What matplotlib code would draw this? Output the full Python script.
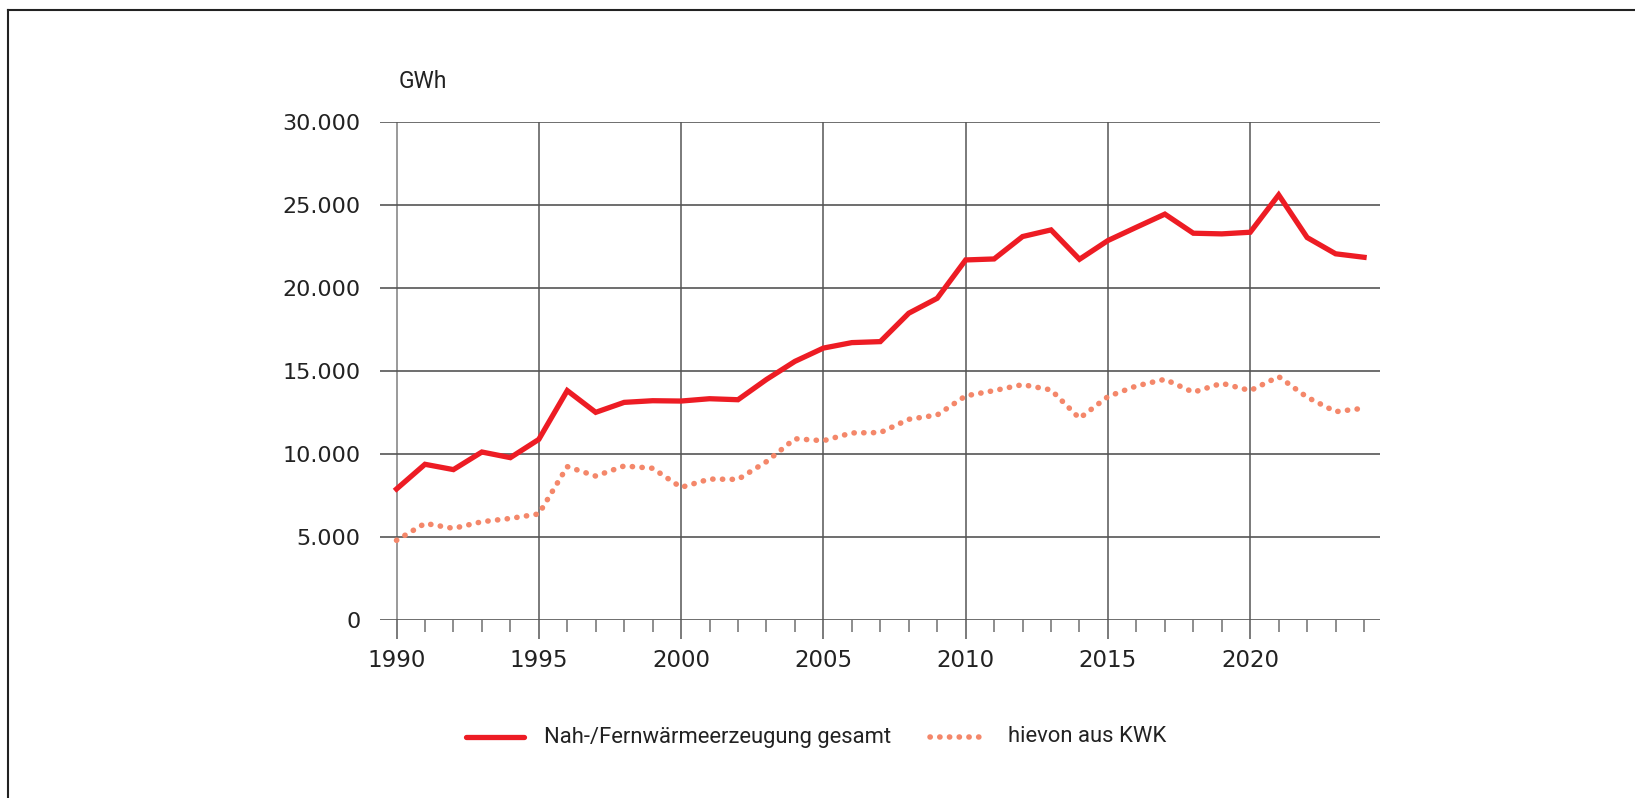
import matplotlib
matplotlib.use("Agg")
import matplotlib.pyplot as plt
from matplotlib.lines import Line2D
from matplotlib.ticker import FuncFormatter, MultipleLocator

years = list(range(1990, 2025))
gesamt = [7890, 9380, 9060, 10120, 9780, 10880, 13820, 12510, 13110, 13210,
          13190, 13330, 13270, 14490, 15580, 16380, 16710, 16770, 18480, 19380,
          21690, 21750, 23100, 23500, 21730, 22860, 23660, 24450, 23300, 23260,
          23360, 25610, 23040, 22060, 21850]
kwk = [4800, 5820, 5520, 5920, 6120, 6390, 9240, 8670, 9280, 9140,
       7990, 8490, 8470, 9540, 10920, 10800, 11270, 11290, 12090, 12350,
       13500, 13820, 14180, 13860, 12150, 13460, 14100, 14500, 13720, 14260,
       13820, 14660, 13420, 12550, 12760]
yticks = [0, 5000, 10000, 15000, 20000, 25000, 30000]
xticks = [1990, 1995, 2000, 2005, 2010, 2015, 2020]
labels = ["Nah-/Fernwärmeerzeugung gesamt", "hievon aus KWK"]
unit = "GWh"

RED = "#ED1C24"
SALMON = "#F4876A"
DOTS = (0, (0.05, 1.7))
W, H = 1635, 798
fig = plt.figure(figsize=(W / 100, H / 100), dpi=100)
ax = fig.add_axes([380 / W, 1 - 620 / H, 1000 / W, (620 - 122) / H])

num_font = ["DejaVu Sans"]
txt_font = ["Roboto", "DejaVu Sans"]

ax.plot(years, gesamt, color=RED, lw=3.8, solid_joinstyle="miter", zorder=4)
ax.plot(years, kwk, color=SALMON, lw=4.0, linestyle=DOTS,
        dash_capstyle="round", zorder=3)

ax.set_xlim(1989.42, 2024.56)
ax.set_ylim(0, 30000)
ax.set_yticks(yticks)
ax.yaxis.set_major_formatter(FuncFormatter(lambda v, p: f"{int(v):,}".replace(",", ".")))
ax.set_xticks(xticks)
ax.xaxis.set_minor_locator(MultipleLocator(1))

for s in ax.spines.values():
    s.set_visible(False)

ax.grid(axis="y", color="#555555", lw=1.2, zorder=1)
ax.grid(axis="x", which="major", color="#7a7a7a", lw=1.4, zorder=1)
ax.tick_params(axis="y", length=0, pad=14, labelsize=16, labelcolor="#222222")
ax.tick_params(axis="x", which="major", length=13.7, width=1.4, color="#7a7a7a",
               pad=7, labelsize=16.5, labelcolor="#222222")
ax.tick_params(axis="x", which="minor", length=8.6, width=1.2, color="#7a7a7a")
for lab in ax.get_xticklabels() + ax.get_yticklabels():
    lab.set_family(num_font)
ax.get_xgridlines()[0].set_color("#9a9a9a")

fig.text(399 / W, 1 - 82 / H, unit, ha="left", va="center", fontsize=16.5,
         family=txt_font, color="#222222")

# legend
ly = 1 - 737 / H
fig.add_artist(Line2D([466 / W, 524 / W], [ly, ly], color=RED, lw=3.8,
                      solid_capstyle="round"))
fig.text(544 / W, ly, labels[0], ha="left", va="center", fontsize=15.8,
         family=txt_font, color="#222222")
fig.add_artist(Line2D([930 / W, 988 / W], [ly, ly], color=SALMON, lw=4.0,
                      linestyle=DOTS, dash_capstyle="round"))
fig.text(1008 / W, ly, labels[1], ha="left", va="center", fontsize=15.8,
         family=txt_font, color="#222222")

# frame border (top and left)
fig.add_artist(Line2D([8 / W, 1], [1 - 10 / H, 1 - 10 / H], color="#222222", lw=1.5))
fig.add_artist(Line2D([8 / W, 8 / W], [0, 1 - 10 / H], color="#222222", lw=1.5))

fig.savefig("out.png", dpi=100, facecolor="white")
